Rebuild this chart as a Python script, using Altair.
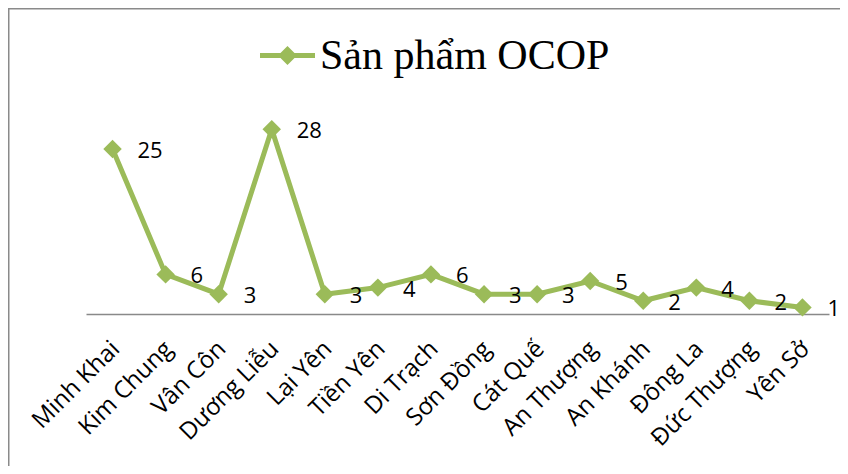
import altair as alt
import pandas as pd

categories = ["Minh Khai", "Kim Chung", "Vân Côn", "Dương Liễu", "Lại Yên", "Tiền Yên",
              "Di Trạch", "Sơn Đồng", "Cát Quế", "An Thượng", "An Khánh", "Đông La",
              "Đức Thượng", "Yên Sở"]
values = [25, 6, 3, 28, 3, 4, 6, 3, 3, 5, 2, 4, 2, 1]
series_name = "Sản phẩm OCOP"
GREEN = "#9BBB59"

df = pd.DataFrame({"xa": categories, "v": values, "s": [series_name] * len(values)})

legend_path = ("M-1,-0.09L-0.255,-0.09L0,-0.345L0.255,-0.09L1,-0.09L1,0.09"
               "L0.255,0.09L0,0.345L-0.255,0.09L-1,0.09Z")

x_enc = alt.X("xa:N", sort=categories,
              axis=alt.Axis(title=None, labelAngle=-45, labelAlign="right",
                            labelBaseline="middle", labelFont="Open Sans",
                            labelFontSize=24, labelColor="black", labelPadding=31,
                            labelOffset=3, ticks=False, domainColor="#898989",
                            domainWidth=1.5, grid=False, labelOverlap=False,
                            labelLimit=0))
y_enc = alt.Y("v:Q", scale=alt.Scale(domain=[0, 30]), axis=None)
color_enc = alt.Color("s:N", scale=alt.Scale(range=[GREEN]),
                      legend=alt.Legend(title=None, orient="none", legendX=174, legendY=-88,
                                        labelFont="Liberation Serif", labelFontSize=42,
                                        labelColor="black", symbolType=legend_path,
                                        symbolSize=3025, symbolStrokeWidth=0,
                                        symbolOpacity=1, labelOffset=5, padding=0,
                                        labelLimit=0))

base = alt.Chart(df)
line = base.mark_line(strokeWidth=5).encode(x=x_enc, y=y_enc, color=color_enc)
pts = base.mark_point(shape="diamond", filled=True, size=340, opacity=1).encode(
    x=x_enc, y=y_enc, color=color_enc)
txt = base.mark_text(align="left", baseline="middle", dx=25, dy=2, font="Open Sans",
                     fontSize=22, color="black").encode(x=x_enc, y=y_enc, text="v:Q")

frame_df = pd.DataFrame({"a": [0]})
frame_left = alt.Chart(frame_df).mark_rule(color="#8a8a8a", strokeWidth=2).encode(
    x=alt.value(-77.5), y=alt.value(-108), y2=alt.value(360))
frame_top = alt.Chart(frame_df).mark_rule(color="#8a8a8a", strokeWidth=2).encode(
    x=alt.value(-78), x2=alt.value(760), y=alt.value(-107.5))

chart = alt.layer(frame_left, frame_top, line, pts, txt).properties(
    width=743, height=198,
    padding={"left": 78, "top": 108, "right": 11, "bottom": 152},
    autosize="none",
).configure_view(stroke=None)

chart.save("out.html", embed_options={"renderer": "svg", "actions": False})
